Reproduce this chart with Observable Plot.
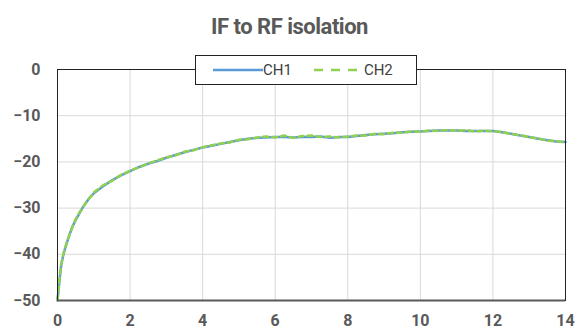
<!DOCTYPE html>
<html>
<head>
<meta charset="utf-8">
<script src="https://cdn.jsdelivr.net/npm/d3@7"></script>
<script src="https://cdn.jsdelivr.net/npm/@observablehq/plot@0.6"></script>
<style>
  html, body { margin: 0; padding: 0; background: #fff; }
  #wrap { position: relative; width: 579px; height: 331px; font-family: Roboto, "Noto Sans", sans-serif; }
  #title { position: absolute; left: 0; top: 0; width: 579px; height: 48px; text-align: center;
           font-weight: bold; font-size: 22px; color: #595959; line-height: 54px; letter-spacing: -0.5px; }
  #chart { position: absolute; left: 0; top: 48px; }
  #legend { position: absolute; left: 195px; top: 55px; width: 222px; height: 30px; background: #fff;
            border: 1px solid #222; box-sizing: border-box; display: flex; align-items: center;
            font-size: 15px; color: #404040; }
  .item { display: flex; align-items: center; }
  .item svg { display: block; }
</style>
</head>
<body>
<div id="wrap">
  <div id="title">IF to RF isolation</div>
  <div id="chart"></div>
  <div id="legend"></div>
</div>
<script>
const freq = [0, 0.05, 0.1, 0.15, 0.2, 0.3, 0.4, 0.5, 0.6, 0.7, 0.8, 0.9, 1.0,
  1.25, 1.5, 1.75, 2.0, 2.25, 2.5, 2.75, 3.0, 3.25, 3.5, 3.75, 4.0, 4.25, 4.5, 4.75,
  5.0, 5.25, 5.5, 5.75, 6.0, 6.25, 6.5, 6.75, 7.0, 7.25, 7.5, 7.75, 8.0, 8.25, 8.5, 8.75,
  9.0, 9.25, 9.5, 9.75, 10.0, 10.25, 10.5, 10.75, 11.0, 11.25, 11.5, 11.75, 12.0,
  12.25, 12.5, 12.75, 13.0, 13.25, 13.5, 13.75, 14.0];
const ch1 = [-50, -46, -42.5, -40.5, -39, -36.5, -34.2, -32.6, -31.2, -29.8, -28.7, -27.6, -26.8,
  -25.3, -24.0, -22.9, -22.0, -21.1, -20.4, -19.8, -19.1, -18.5, -17.9, -17.4, -16.9, -16.5, -16.1, -15.7,
  -15.3, -15.0, -14.8, -14.7, -14.6, -14.6, -14.7, -14.6, -14.6, -14.5, -14.8, -14.6, -14.6, -14.4, -14.2, -14.0,
  -13.9, -13.8, -13.6, -13.5, -13.4, -13.3, -13.2, -13.2, -13.2, -13.3, -13.3, -13.3, -13.3,
  -13.6, -13.9, -14.3, -14.6, -15.0, -15.3, -15.6, -15.7];
const ch2 = [-50, -45.6, -42.2, -40.3, -38.8, -36.3, -34.4, -32.4, -31.0, -29.9, -28.5, -27.7, -26.6,
  -25.1, -24.1, -22.8, -21.9, -21.2, -20.3, -19.7, -19.0, -18.6, -17.8, -17.5, -16.8, -16.4, -16.0, -15.8,
  -15.2, -15.1, -14.7, -14.5, -14.7, -14.3, -14.8, -14.4, -14.3, -14.6, -14.5, -14.7, -14.5, -14.3, -14.3, -13.9,
  -14.0, -13.7, -13.7, -13.4, -13.5, -13.2, -13.3, -13.1, -13.3, -13.1, -13.4, -13.2, -13.4,
  -13.5, -14.0, -14.2, -14.7, -14.9, -15.4, -15.5, -15.8];
const series = ["CH1", "CH2"];
const colors = ["#5b9bd5", "#92d050"];
const xTicks = [0, 2, 4, 6, 8, 10, 12, 14];
const yTicks = [0, -10, -20, -30, -40, -50];

const rows = [];
freq.forEach((f, i) => {
  rows.push({f, v: ch1[i], s: "CH1"});
  rows.push({f, v: ch2[i], s: "CH2"});
});

const chart = Plot.plot({
  width: 579,
  height: 283,
  marginLeft: 57,
  marginRight: 14,
  marginTop: 21,
  marginBottom: 31,
  style: {fontFamily: "Roboto, sans-serif", fontSize: "16px", fontWeight: "bold", color: "#595959", background: "#fff"},
  x: {domain: [0, 14], ticks: xTicks, tickSize: 0, tickPadding: 14, label: null},
  y: {domain: [-50, 0], ticks: yTicks, tickSize: 0, tickPadding: 17, label: null},
  marks: [
    Plot.gridX(xTicks, {stroke: "#d9d9d9", strokeOpacity: 1, strokeWidth: 1}),
    Plot.gridY(yTicks, {stroke: "#d9d9d9", strokeOpacity: 1, strokeWidth: 1}),
    Plot.line(rows.filter(d => d.s === "CH1"), {x: "f", y: "v", stroke: colors[0], strokeWidth: 2.5}),
    Plot.line(rows.filter(d => d.s === "CH2"), {x: "f", y: "v", stroke: colors[1], strokeWidth: 2.5, strokeDasharray: "5,4"}),
    Plot.frame({stroke: "#222", strokeWidth: 1}),
    Plot.ruleY([-50], {stroke: "#595959", strokeWidth: 2})
  ]
});
document.getElementById("chart").appendChild(chart);

const legend = document.getElementById("legend");
series.forEach((s, i) => {
  const item = document.createElement("div");
  item.className = "item";
  item.style.marginLeft = i === 0 ? "17px" : "22px";
  item.innerHTML = `<svg width="50" height="10"><line x1="0" y1="5" x2="50" y2="5" stroke="${colors[i]}" stroke-width="2.5" ${i === 1 ? 'stroke-dasharray="9,8"' : ''}/></svg><span>${s}</span>`;
  legend.appendChild(item);
});
</script>
</body>
</html>
